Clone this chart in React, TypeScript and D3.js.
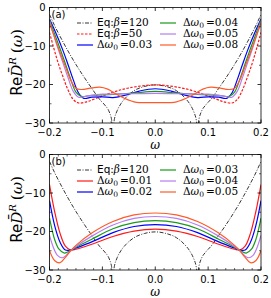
import React from "react";
import * as d3 from "d3";

// x axis (omega) and y axis ticks
const xMajor = [-0.2, -0.1, 0.0, 0.1, 0.2];
const xMinorStep = 0.1 / 6;
const yMajor = [0, -10, -20, -30];
const yMinor = [-5, -15, -25];

// curves are symmetric in omega, values read for omega >= 0
const eq120 = [
  [0, -20.1], [0.02, -20.5], [0.04, -21.6], [0.055, -23.3], [0.065, -25], [0.072, -26.8],
  [0.077, -28.8], [0.08, -31], [0.083, -28.8], [0.088, -26.8], [0.095, -25.4], [0.105, -23.9],
  [0.12, -21], [0.135, -18], [0.15, -14.8], [0.165, -11.3], [0.18, -7.5], [0.19, -4.8], [0.2, -1.8],
];

// panel (a)
const eq50 = [
  [0, -20.1], [0.05, -20.9], [0.08, -22], [0.11, -23.5], [0.13, -24.5], [0.145, -24.8],
  [0.155, -23.9], [0.165, -21.4], [0.175, -17.8], [0.185, -13.8], [0.2, -6.5],
];
const a003 = [
  [0, -21.1], [0.03, -21.7], [0.06, -22.9], [0.08, -23.4], [0.1, -23.2], [0.12, -23.3],
  [0.135, -23.6], [0.145, -22.2], [0.155, -18.8], [0.165, -14.8], [0.175, -11], [0.19, -6], [0.2, -3],
];
const a004 = [
  [0, -21.8], [0.04, -22.2], [0.08, -22.6], [0.12, -22.8], [0.14, -23.1], [0.15, -22],
  [0.16, -18.6], [0.17, -14.6], [0.18, -10.7], [0.19, -7], [0.2, -3.2],
];
const a005 = [
  [0, -22.3], [0.05, -22.4], [0.1, -22.5], [0.13, -23], [0.145, -23.3], [0.155, -21.8],
  [0.165, -18.2], [0.175, -14.2], [0.185, -10.2], [0.2, -3.5],
];
const a008 = [
  [0, -24.7], [0.04, -24.5], [0.07, -22.8], [0.09, -21.2], [0.105, -20.7], [0.12, -20.9],
  [0.14, -21.3], [0.15, -21], [0.16, -18.8], [0.17, -15.3], [0.18, -11.7], [0.19, -7.9], [0.2, -4],
];

// panel (b)
const b001 = [
  [0, -19.4], [0.04, -19.9], [0.08, -21.3], [0.12, -23.3], [0.15, -24.6], [0.16, -24.8],
  [0.17, -23.8], [0.18, -20.5], [0.19, -15], [0.2, -7.8],
];
const b002 = [
  [0, -18.2], [0.04, -18.7], [0.08, -20.3], [0.12, -22.7], [0.15, -24.3], [0.16, -24.8],
  [0.17, -24.8], [0.18, -22.8], [0.19, -18.6], [0.2, -12],
];
const b003 = [
  [0, -17.2], [0.04, -17.7], [0.08, -19.3], [0.12, -22], [0.15, -24.1], [0.16, -24.9],
  [0.172, -25.6], [0.182, -24.6], [0.19, -22.2], [0.2, -16.5],
];
const b004 = [
  [0, -16.1], [0.04, -16.6], [0.08, -18.3], [0.12, -21.2], [0.15, -23.9], [0.16, -25],
  [0.175, -26.8], [0.185, -26.2], [0.193, -24], [0.2, -21],
];
const b005 = [
  [0, -15.2], [0.04, -15.7], [0.08, -17.4], [0.12, -20.4], [0.15, -23.6], [0.16, -25],
  [0.17, -26.7], [0.18, -28.1], [0.19, -27.6], [0.2, -25],
];

const legendA = [
  { label: "eq", beta: "120", color: "#000", dash: "4,1.5,1,1.5", width: 0.8, data: eq120, sharp: true },
  { label: "eq", beta: "50", color: "#ff1a1a", dash: "2.5,1.5", width: 1.2, data: eq50 },
  { label: "dw", val: "0.03", color: "#0000ff", width: 1.2, data: a003 },
  { label: "dw", val: "0.04", color: "#1a9a1a", width: 1.2, data: a004 },
  { label: "dw", val: "0.05", color: "#b77cf0", width: 1.2, data: a005 },
  { label: "dw", val: "0.08", color: "#ff5a28", width: 1.2, data: a008 },
];
const legendB = [
  { label: "eq", beta: "120", color: "#000", dash: "4,1.5,1,1.5", width: 0.8, data: eq120, sharp: true },
  { label: "dw", val: "0.01", color: "#ff1a1a", width: 1.2, data: b001 },
  { label: "dw", val: "0.02", color: "#0000ff", width: 1.2, data: b002 },
  { label: "dw", val: "0.03", color: "#1a9a1a", width: 1.2, data: b003 },
  { label: "dw", val: "0.04", color: "#b77cf0", width: 1.2, data: b004 },
  { label: "dw", val: "0.05", color: "#ff5a28", width: 1.2, data: b005 },
];

const mirror = (half: number[][]) => [
  ...half.slice(1).map(([w, v]) => [-w, v]).reverse(),
  ...half,
];

const SANS = "DejaVu Sans";
const SERIF = "DejaVu Serif";

function LegendText({ item, x, y }: any) {
  if (item.label === "eq") {
    return (
      <text x={x} y={y} fontSize={10.5} dominantBaseline="middle">
        <tspan fontFamily={SANS}>Eq:</tspan>
        <tspan fontFamily={SERIF} fontStyle="italic">β</tspan>
        <tspan fontFamily={SERIF}>{"=" + item.beta}</tspan>
      </text>
    );
  }
  return (
    <text x={x} y={y} fontSize={10.5} fontFamily={SERIF} dominantBaseline="middle">
      <tspan>Δ</tspan>
      <tspan fontStyle="italic">ω</tspan>
      <tspan fontSize={7.5} dy={2.5}>0</tspan>
      <tspan dy={-2.5} dx={2}>{"=" + item.val}</tspan>
    </text>
  );
}

function Panel({ top, tag, items }: any) {
  const left = 49.5, right = 261, bottom = top + 115.5;
  const x = d3.scaleLinear().domain([-0.2, 0.2]).range([left, right]);
  const y = d3.scaleLinear().domain([-30, 0]).range([bottom, top]);
  const smooth = d3.line<number[]>()
    .x((d) => x(d[0]))
    .y((d) => y(d[1]))
    .curve(d3.curveCatmullRom.alpha(0.5));
  const sharp = d3.line<number[]>()
    .x((d) => x(d[0]))
    .y((d) => y(d[1]))
    .curve(d3.curveMonotoneX);
  const minor = d3.range(-0.2, 0.2001, xMinorStep).filter(
    (v) => !xMajor.some((m) => Math.abs(m - v) < 1e-6)
  );
  const clipId = "clip" + tag;
  const fmt = (v: number) => (v < 0 ? "\u2212" : "") + Math.abs(v).toFixed(1);
  const rows = [top + 15.5, top + 26.5, top + 37.5];

  return (
    <g>
      <defs>
        <clipPath id={clipId}>
          <rect x={left} y={top} width={right - left} height={bottom - top} />
        </clipPath>
      </defs>
      <g clipPath={`url(#${clipId})`}>
        {items.map((it: any, i: number) => (
          <path
            key={i}
            d={(it.sharp ? sharp : smooth)(mirror(it.data)) || ""}
            fill="none"
            stroke={it.color}
            strokeWidth={it.width}
            strokeDasharray={it.dash}
          />
        ))}
      </g>
      {/* frame */}
      <rect x={left} y={top} width={right - left} height={bottom - top} fill="none" stroke="#000" strokeWidth={0.8} />
      {/* x ticks */}
      {xMajor.map((v) => (
        <g key={"xm" + v}>
          <line x1={x(v)} x2={x(v)} y1={bottom} y2={bottom - 3.5} stroke="#000" strokeWidth={0.8} />
          <line x1={x(v)} x2={x(v)} y1={top} y2={top + 3.5} stroke="#000" strokeWidth={0.8} />
          <text x={x(v)} y={bottom + 13} fontFamily={SANS} fontSize={10} textAnchor="middle">{fmt(v)}</text>
        </g>
      ))}
      {minor.map((v, i) => (
        <g key={"xn" + i}>
          <line x1={x(v)} x2={x(v)} y1={bottom} y2={bottom - 2} stroke="#000" strokeWidth={0.6} />
          <line x1={x(v)} x2={x(v)} y1={top} y2={top + 2} stroke="#000" strokeWidth={0.6} />
        </g>
      ))}
      {/* y ticks */}
      {yMajor.map((v) => (
        <g key={"ym" + v}>
          <line x1={left} x2={left + 3.5} y1={y(v)} y2={y(v)} stroke="#000" strokeWidth={0.8} />
          <line x1={right} x2={right - 3.5} y1={y(v)} y2={y(v)} stroke="#000" strokeWidth={0.8} />
          <text x={left - 4} y={y(v)} dy="0.35em" fontFamily={SANS} fontSize={10} textAnchor="end">
            {v < 0 ? "\u2212" + Math.abs(v) : String(v)}
          </text>
        </g>
      ))}
      {yMinor.map((v) => (
        <g key={"yn" + v}>
          <line x1={left} x2={left + 2} y1={y(v)} y2={y(v)} stroke="#000" strokeWidth={0.6} />
          <line x1={right} x2={right - 2} y1={y(v)} y2={y(v)} stroke="#000" strokeWidth={0.6} />
        </g>
      ))}
      {/* x label */}
      <text x={x(0)} y={bottom + 25.5} fontFamily={SERIF} fontStyle="italic" fontSize={12} textAnchor="middle">ω</text>
      {/* y label */}
      <text
        transform={`translate(22,${top + 55}) rotate(-90)`}
        textAnchor="middle"
        fontSize={15}
      >
        <tspan fontFamily={SANS}>Re</tspan>
        <tspan fontFamily={SERIF} fontStyle="italic">D̄</tspan>
        <tspan fontFamily={SERIF} fontStyle="italic" fontSize={10} dy={-6.5}>R</tspan>
        <tspan fontFamily={SERIF} dy={6.5} dx={4}>(</tspan>
        <tspan fontFamily={SERIF} fontStyle="italic">ω</tspan>
        <tspan fontFamily={SERIF}>)</tspan>
      </text>
      {/* panel tag */}
      <text x={left + 2} y={top + 10} fontFamily={SANS} fontSize={10}>({tag})</text>
      {/* legend */}
      {items.map((it: any, i: number) => {
        const col = Math.floor(i / 3);
        const row = i % 3;
        const lx = col === 0 ? 77 : 160;
        const tx = col === 0 ? 97 : 183;
        return (
          <g key={"lg" + i}>
            <line x1={lx} x2={lx + 16} y1={rows[row]} y2={rows[row]} stroke={it.color}
              strokeWidth={it.width} strokeDasharray={it.dash} />
            <LegendText item={it} x={tx} y={rows[row]} />
          </g>
        );
      })}
    </g>
  );
}

export default function App() {
  return (
    <svg width={271} height={298} style={{ position: "absolute", left: 0, top: 0, background: "#fff" }}>
      <Panel top={7.5} tag="a" items={legendA} />
      <Panel top={154.5} tag="b" items={legendB} />
    </svg>
  );
}
